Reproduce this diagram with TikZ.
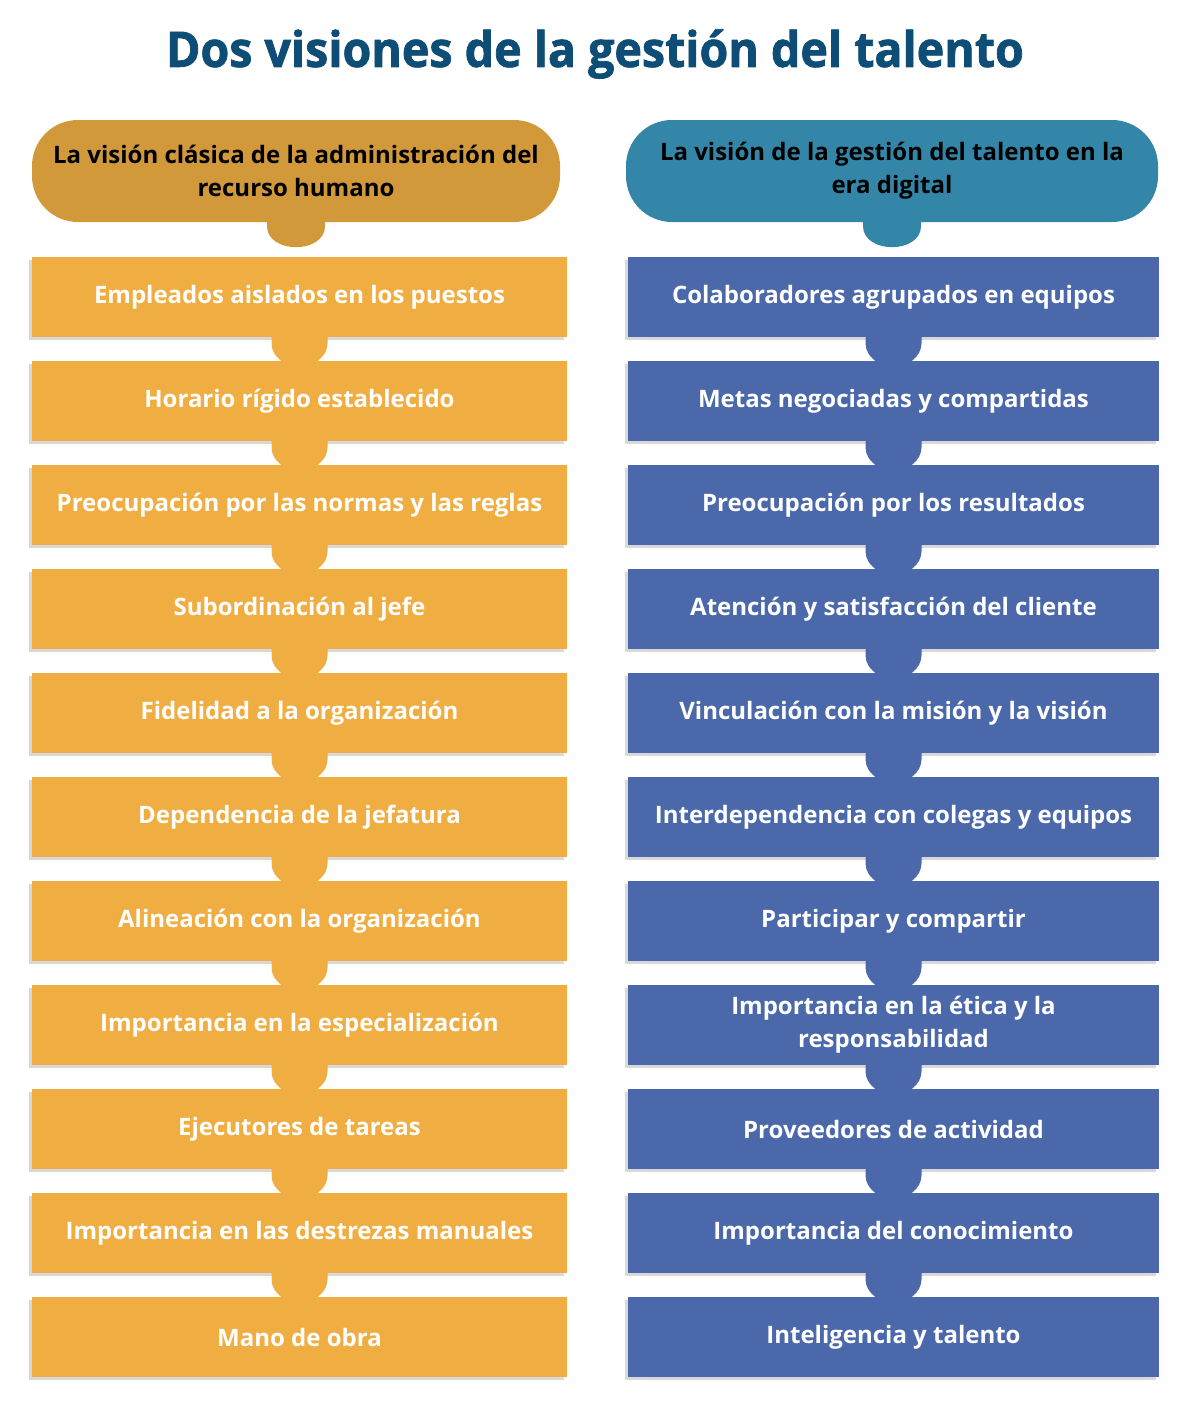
\documentclass[tikz,border=0pt]{standalone}
\usepackage{fontspec}
\setmainfont{Open Sans}
\newfontfamily\fuenteTitulo[FakeBold=1.6]{Open Sans Bold}
\usetikzlibrary{positioning,calc,shadows}
\definecolor{oroCaja}{RGB}{240,174,66}
\definecolor{oroCabeza}{RGB}{209,153,57}
\definecolor{azulCaja}{RGB}{74,104,170}
\definecolor{azulCabeza}{RGB}{52,134,168}
\definecolor{colTitulo}{RGB}{14,78,118}

\begin{document}
\begin{tikzpicture}[x=1pt,y=-1pt,
    caja/.style={minimum height=80pt,inner sep=0pt,align=center,text=white,
      font=\fontsize{24}{33}\selectfont\bfseries,
      drop shadow={shadow xshift=-3pt,shadow yshift=-3pt,fill=black!30}},
    cabeza/.style={minimum height=102pt,inner sep=0pt,align=center,text=black,
      rounded corners=46pt,font=\fontsize{24}{33}\selectfont\bfseries}]
  \useasboundingbox (0,0) rectangle (1192,1408);
  \fill[white] (0,0) rectangle (1192,1408);
  % Titulo
  \node[text=colTitulo,font=\fontsize{49}{52}\fuenteTitulo,
        xscale=0.95,transform shape] (titulo) at (595,54)
        {Dos visiones de la gestión del talento};
  % Cabeceras
  \node[cabeza,fill=oroCabeza,minimum width=528pt] (HL) at (296,171)
    {La visión clásica de la administración del\\recurso humano};
  \node[cabeza,fill=azulCabeza,minimum width=532pt] (HR) at (892,171)
    {La visión de la gestión del talento en la\\era digital};
  \fill[oroCabeza] ($(HL.south)+(-29,-2)$) -- ++(0,6)
    .. controls +(0,14) and +(-14,0) .. ++(29,21)
    .. controls +(14,0) and +(0,14) .. ++(29,-21) -- ++(0,-6) -- cycle;
  \fill[azulCabeza] ($(HR.south)+(-29,-2)$) -- ++(0,6)
    .. controls +(0,14) and +(-14,0) .. ++(29,21)
    .. controls +(14,0) and +(0,14) .. ++(29,-21) -- ++(0,-6) -- cycle;
  % Columna izquierda
  \foreach \txt [count=\i] in {Empleados aislados en los puestos,
      Horario rígido establecido,
      Preocupación por las normas y las reglas,
      Subordinación al jefe,
      Fidelidad a la organización,
      Dependencia de la jefatura,
      Alineación con la organización,
      Importancia en la especialización,
      Ejecutores de tareas,
      Importancia en las destrezas manuales,
      Mano de obra}{
    \node[caja,fill=oroCaja,minimum width=535pt] (L\i) at (299.5,{297+104*(\i-1)}) {\txt};
  }
  % Columna derecha
  \foreach \txt [count=\i] in {Colaboradores agrupados en equipos,
      Metas negociadas y compartidas,
      Preocupación por los resultados,
      Atención y satisfacción del cliente,
      Vinculación con la misión y la visión,
      Interdependencia con colegas y equipos,
      Participar y compartir,
      Importancia en la ética y la\\responsabilidad,
      Proveedores de actividad,
      Importancia del conocimiento,
      Inteligencia y talento}{
    \node[caja,fill=azulCaja,minimum width=531pt] (R\i) at (893.5,{297+104*(\i-1)}) {\txt};
  }
  % Pestanas entre cajas
  \foreach \i in {1,...,10}{
    \fill[oroCaja] ($(L\i.south)+(-28,0)$) -- ++(0,6)
      .. controls +(0,14) and +(-13,0) .. ++(28,24)
      .. controls +(13,0) and +(0,14) .. ++(28,-24) -- ++(0,-6) -- cycle;
    \fill[azulCaja] ($(R\i.south)+(-28,0)$) -- ++(0,6)
      .. controls +(0,14) and +(-13,0) .. ++(28,24)
      .. controls +(13,0) and +(0,14) .. ++(28,-24) -- ++(0,-6) -- cycle;
  }
\end{tikzpicture}
\end{document}
